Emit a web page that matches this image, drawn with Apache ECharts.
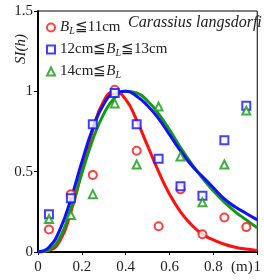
<!DOCTYPE html>
<html>
<head>
<meta charset="utf-8">
<script src="https://cdn.jsdelivr.net/npm/echarts@6/dist/echarts.min.js"></script>
<style>
  html, body { margin: 0; padding: 0; background: #fff; }
  #chart { width: 264px; height: 280px; }
</style>
</head>
<body>
<div id="chart"></div>
<script>
// measured points (depth h in m, SI)
var depths = [0.05, 0.15, 0.25, 0.35, 0.45, 0.55, 0.65, 0.75, 0.85, 0.95];
var smallFish = [0.14, 0.36, 0.48, 1.01, 0.63, 0.16, 0.39, 0.11, 0.215, 0.155];
var midFish = [0.235, 0.335, 0.795, 0.99, 0.795, 0.58, 0.41, 0.35, 0.695, 0.91];
var largeFish = [0.205, 0.23, 0.36, 0.925, 0.545, 0.905, 0.595, 0.31, 0.545, 0.88];

// fitted curves
var curveX = [0, 0.05, 0.1, 0.15, 0.2, 0.25, 0.3, 0.35, 0.4, 0.45, 0.5, 0.55, 0.6, 0.65, 0.7, 0.75, 0.8, 0.85, 0.9, 0.95, 1];
var smallCurve = [0, 0.01, 0.07, 0.25, 0.5, 0.76, 0.94, 1.0, 0.95, 0.82, 0.66, 0.5, 0.36, 0.25, 0.17, 0.11, 0.075, 0.048, 0.03, 0.018, 0.01];
var midCurve = [0, 0.03, 0.14, 0.33, 0.56, 0.77, 0.92, 0.99, 1.0, 0.97, 0.91, 0.83, 0.73, 0.63, 0.54, 0.47, 0.4, 0.33, 0.28, 0.24, 0.2];
var largeCurve = [0, 0.015, 0.09, 0.27, 0.49, 0.7, 0.86, 0.96, 1.0, 0.99, 0.94, 0.86, 0.76, 0.65, 0.55, 0.46, 0.38, 0.31, 0.25, 0.2, 0.15];

var xTicks = [0, 0.2, 0.4, 0.6, 0.8, 1];
var yTicks = [0, 0.5, 1, 1.5];

function pairs(xs, ys) {
  return xs.map(function (x, i) { return [x, ys[i]]; });
}

var font = "Liberation Serif";
var red = "#ff1010";
var blue = "#1010ff";
var green = "#129a12";

var chart = echarts.init(document.getElementById("chart"));
chart.setOption({
  animation: false,
  grid: {
    left: 38,
    top: 11,
    width: 227,
    height: 241,
    show: true,
    borderColor: "#000",
    borderWidth: 1
  },
  legend: {
    left: 41,
    top: 15,
    orient: "vertical",
    itemGap: 6,
    itemWidth: 8,
    itemHeight: 8,
    data: ["small", "mid", "large"],
    itemStyle: { borderWidth: 2 },
    formatter: function (name) {
      if (name === "small") return "{i|B}{s|L}≦11cm";
      if (name === "mid") return "12cm≦{i|B}{s|L}≦13cm";
      return "14cm≦{i|B}{s|L}";
    },
    textStyle: {
      fontFamily: font,
      fontSize: 15,
      color: "#222",
      rich: {
        i: { fontFamily: font, fontSize: 15, fontStyle: "italic", color: "#222" },
        s: { fontFamily: font, fontSize: 10, fontStyle: "italic", color: "#222", padding: [7, 0, 0, 0] }
      }
    }
  },
  xAxis: {
    type: "value",
    min: 0,
    max: 1,
    interval: 0.2,
    axisLine: { lineStyle: { color: "#000", width: 2 } },
    axisTick: { length: 3, lineStyle: { color: "#000" } },
    splitLine: { show: false },
    axisLabel: {
      margin: 8,
      color: "#222",
      fontFamily: font,
      fontSize: 15,
      showMaxLabel: true,
      formatter: function (v) {
        var t = xTicks.find(function (k) { return Math.abs(k - v) < 1e-6; });
        return t === undefined ? "" : String(t);
      }
    }
  },
  yAxis: {
    type: "value",
    min: 0,
    max: 1.5,
    interval: 0.5,
    axisLine: { show: true, lineStyle: { color: "#000", width: 2 } },
    axisTick: { show: true, length: 4, lineStyle: { color: "#000" } },
    splitLine: { show: false },
    axisLabel: {
      margin: 5,
      color: "#222",
      fontFamily: font,
      fontSize: 15,
      formatter: function (v) {
        var t = yTicks.find(function (k) { return Math.abs(k - v) < 1e-6; });
        return t === undefined ? "" : String(t);
      }
    }
  },
  graphic: [
    {
      type: "text",
      left: 128,
      top: 15,
      style: { text: "Carassius langsdorfi", fontFamily: font, fontSize: 16, fontStyle: "italic", fill: "#222" }
    },
    {
      type: "text",
      x: 14,
      y: 64,
      rotation: Math.PI / 2,
      style: { text: "SI(h)", fontFamily: font, fontSize: 15, fontStyle: "italic", fill: "#222" }
    },
    {
      type: "text",
      left: 231,
      top: 260,
      style: { text: "(m)", fontFamily: font, fontSize: 15, fill: "#222" }
    }
  ],
  series: [
    {
      name: "smallCurve",
      type: "line",
      smooth: true,
      symbol: "none",
      lineStyle: { color: red, width: 3 },
      data: pairs(curveX, smallCurve),
      z: 2
    },
    {
      name: "largeCurve",
      type: "line",
      smooth: true,
      symbol: "none",
      lineStyle: { color: green, width: 3 },
      data: pairs(curveX, largeCurve),
      z: 2
    },
    {
      name: "midCurve",
      type: "line",
      smooth: true,
      symbol: "none",
      lineStyle: { color: blue, width: 3 },
      data: pairs(curveX, midCurve),
      z: 2
    },
    {
      name: "small",
      type: "scatter",
      symbol: "circle",
      symbolSize: 8,
      itemStyle: { color: "#fff", borderColor: red, borderWidth: 2 },
      data: pairs(depths, smallFish),
      z: 3
    },
    {
      name: "mid",
      type: "scatter",
      symbol: "rect",
      symbolSize: 8,
      itemStyle: { color: "#fff", borderColor: blue, borderWidth: 2 },
      data: pairs(depths, midFish),
      z: 3
    },
    {
      name: "large",
      type: "scatter",
      symbol: "triangle",
      symbolSize: 8,
      itemStyle: { color: "#fff", borderColor: green, borderWidth: 2 },
      data: pairs(depths, largeFish),
      z: 3
    }
  ]
});
</script>
</body>
</html>
